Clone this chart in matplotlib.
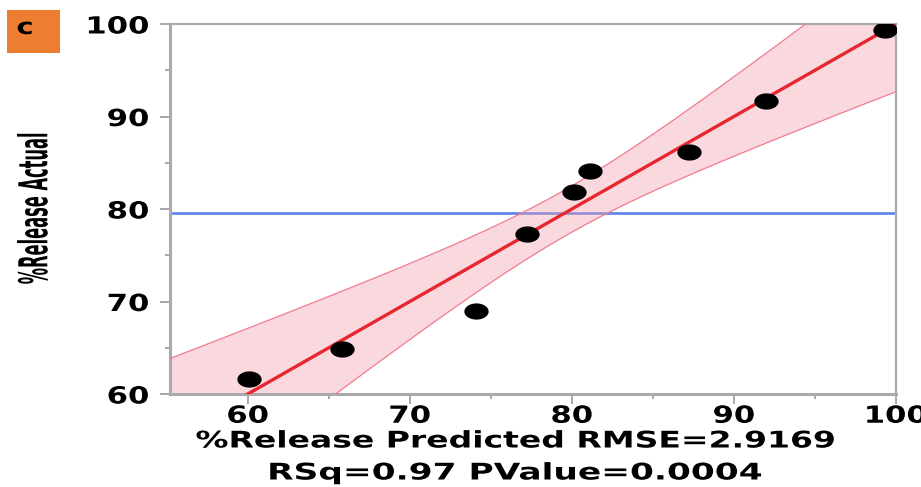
import numpy as np
import matplotlib
matplotlib.use("Agg")
import matplotlib.pyplot as plt
from matplotlib.path import Path
from matplotlib.patches import Rectangle
from matplotlib.patheffects import AbstractPathEffect
from matplotlib.transforms import Affine2D

# ---- data: actual vs predicted % release ----
predicted = [60.1, 65.8, 74.1, 77.2, 80.1, 81.1, 87.2, 92.0, 99.3]
actual = [61.6, 64.9, 69.0, 77.3, 81.8, 84.1, 86.2, 91.7, 99.3]
rmse = 2.9169
rsq = 0.97
pvalue = 0.0004
n_params = 4              # model terms incl. intercept
t_crit = 2.5706           # t(0.975, df=5)
f_crit = 5.4095           # F(0.95, 3, 5)
x_ticks = [60, 70, 80, 90, 100]
y_ticks = [60, 70, 80, 90, 100]
panel_tag = "c"


class WideGlyphs(AbstractPathEffect):
    """Draw text glyphs widened horizontally about an anchor of the ink box."""

    def __init__(self, sx=1.5, anchor="center"):
        super().__init__()
        self.sx = sx
        self.anchor = anchor

    def draw_path(self, renderer, gc, tpath, affine, rgbFace=None):
        ext = tpath.get_extents(affine)
        if self.anchor == "left":
            cx = ext.x0
        elif self.anchor == "right":
            cx = ext.x1
        else:
            cx = 0.5 * (ext.x0 + ext.x1)
        wide = Affine2D().translate(-cx, 0).scale(self.sx, 1).translate(cx, 0)
        renderer.draw_path(gc, tpath, affine + wide, rgbFace)


W, H = 921, 487
fig = plt.figure(figsize=(W / 100, H / 100), dpi=100)
ax = fig.add_axes([170 / W, 1 - 394 / H, (896 - 170) / W, (394 - 24) / H])

x = np.asarray(predicted)
y = np.asarray(actual)
n = len(x)
xbar = x.mean()
ybar = y.mean()
sxx = np.sum((x - xbar) ** 2)

xlo, xhi = 55.2, 100.0
xs = np.linspace(xlo, xhi, 400)
half = np.sqrt(rmse ** 2 * (t_crit ** 2 / n
                            + f_crit * (n_params - 1) * (xs - xbar) ** 2 / sxx))
fit = xs  # actual = predicted line
upper = fit + half
lower = fit - half

ax.axhline(ybar, color="#5b82e8", lw=1.9, zorder=1)
ax.fill_between(xs, lower, upper, color="#f2a0ae", alpha=0.4, lw=0, zorder=2)
ax.plot(xs, upper, color="#f07c8d", lw=0.9, zorder=3)
ax.plot(xs, lower, color="#f07c8d", lw=0.9, zorder=3)
ax.plot(xs, fit, color="#e8262f", lw=2.4, zorder=4, solid_capstyle="butt")

theta = np.linspace(0, 2 * np.pi, 64)
ellipse = Path(np.column_stack([1.5 * np.cos(theta), np.sin(theta)]), closed=True)
ax.plot(x, y, ls="none", marker=ellipse, ms=17.5, mfc="black", mec="black",
        mew=0, zorder=5)

ax.set_xlim(xlo, xhi)
ax.set_ylim(60, 100)
ax.set_xticks(x_ticks)
ax.set_yticks(y_ticks)
ax.set_xticks([65, 75, 85, 95], minor=True)
ax.set_yticks([65, 75, 85, 95], minor=True)

spine_col = "#aaaaaa"
for side in ["left", "bottom"]:
    ax.spines[side].set_color(spine_col)
    ax.spines[side].set_linewidth(2.2)
for side in ["top", "right"]:
    ax.spines[side].set_color(spine_col)
    ax.spines[side].set_linewidth(1.6)

ax.tick_params(which="major", direction="out", length=7, width=1.2,
               color="#999999", labelsize=17)
ax.tick_params(which="minor", direction="out", length=3.5, width=1.2,
               color="#999999")
ax.tick_params(axis="y", which="major", pad=8)
ax.tick_params(axis="x", which="major", pad=0)

for lab in ax.get_xticklabels():
    lab.set_fontweight("bold")
    lab.set_fontfamily("DejaVu Sans")
    lab.set_path_effects([WideGlyphs(1.3, "center")])
for lab in ax.get_yticklabels():
    lab.set_fontweight("bold")
    lab.set_fontfamily("DejaVu Sans")
    lab.set_path_effects([WideGlyphs(1.3, "right")])

# axis titles
fig.text(515 / W, 1 - 441 / H, f"%Release Predicted RMSE={rmse:.4f}",
         ha="center", va="center", fontsize=16.5, fontweight="bold",
         family="DejaVu Sans", path_effects=[WideGlyphs(1.44, "center")])
fig.text(515 / W, 1 - 473 / H, f"RSq={rsq:.2f} PValue={pvalue:.4f}",
         ha="center", va="center", fontsize=16.5, fontweight="bold",
         family="DejaVu Sans", path_effects=[WideGlyphs(1.5, "center")])
fig.text(34 / W, 1 - 208 / H, "%Release Actual", rotation=90,
         ha="center", va="center", fontsize=11.7, fontweight="bold",
         family=["Liberation Sans Narrow", "DejaVu Sans"],
         path_effects=[WideGlyphs(2.45, "center")])

# panel tag
fig.patches.append(Rectangle((7 / W, 1 - 53 / H), 53 / W, 43 / H,
                             transform=fig.transFigure, facecolor="#ed7d31",
                             edgecolor="none"))
fig.text(25 / W, 1 - 28 / H, panel_tag, ha="center", va="center",
         fontsize=16, fontweight="bold", family="DejaVu Sans",
         path_effects=[WideGlyphs(1.3, "center")])

fig.savefig("out.png", dpi=100)
